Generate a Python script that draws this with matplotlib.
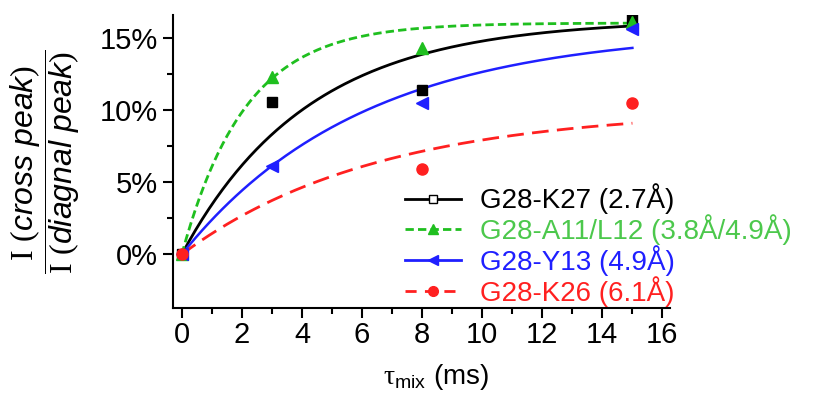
import numpy as np
import matplotlib.pyplot as plt
from matplotlib.lines import Line2D
from matplotlib.ticker import FixedLocator, FuncFormatter

plt.rcParams['font.family'] = ['Liberation Sans', 'DejaVu Sans']
plt.rcParams['mathtext.fontset'] = 'custom'
plt.rcParams['mathtext.rm'] = 'Liberation Serif'
plt.rcParams['mathtext.it'] = 'Liberation Sans:italic'
plt.rcParams['mathtext.sf'] = 'Liberation Sans'

# mixing times (ms) and cross/diagonal peak ratios (%)
t_k27 = [0, 3, 8, 15]
y_k27 = [0.0, 10.6, 11.4, 16.3]
t_a11 = [0, 3, 8, 15]
y_a11 = [0.0, 12.3, 14.3, 16.1]
t_y13 = [0, 3, 8, 15]
y_y13 = [0.0, 6.1, 10.5, 15.6]
t_k26 = [0, 8, 15]
y_k26 = [0.0, 5.9, 10.5]

labels = ['G28-K27 (2.7Å)', 'G28-A11/L12 (3.8Å/4.9Å)', 'G28-Y13 (4.9Å)', 'G28-K26 (6.1Å)']

# buildup fits: A * (1 - exp(-t / T))
fit_amp = [16.3, 16.05, 15.6, 10.1]
fit_tau = [4.2, 2.1, 6.0, 6.5]

line_colors = ['black', '#1fbf1f', '#1f1fff', '#ff2020']
text_colors = ['black', '#4cc84c', '#1f1fff', '#ff2020']

fig = plt.figure(figsize=(8.19, 3.96), dpi=100)
ax = fig.add_axes([0.211, 0.222, 0.607, 0.74])

tt = np.linspace(0, 15, 200)
styles = [dict(ls='-', lw=2.0),
          dict(ls=(0, (3, 1.5)), lw=2.0),
          dict(ls='-', lw=1.8),
          dict(ls=(0, (6, 3)), lw=2.0)]
for A, T, c, st in zip(fit_amp, fit_tau, line_colors, styles):
    ax.plot(tt, A * (1 - np.exp(-tt / T)), color=c, **st)

ms = 8
ax.plot(t_k27, y_k27, 's', color=line_colors[0], ms=7, ls='none')
ax.plot(t_a11, y_a11, '^', color=line_colors[1], ms=ms, ls='none')
ax.plot(t_y13, y_y13, '<', color=line_colors[2], ms=ms, ls='none')
ax.plot(t_k26, y_k26, 'o', color=line_colors[3], ms=ms, ls='none')

ax.set_xlim(-0.3, 16.25)
ax.set_ylim(-3.73, 16.6)
ax.set_xticks(range(0, 17, 2))
ax.xaxis.set_minor_locator(FixedLocator(range(1, 17, 2)))
ax.set_yticks([0, 5, 10, 15])
ax.yaxis.set_minor_locator(FixedLocator([2.5, 7.5, 12.5]))
ax.yaxis.set_major_formatter(FuncFormatter(lambda v, p: '%d%%' % v))

for s in ['top', 'right']:
    ax.spines[s].set_visible(False)
for s in ['left', 'bottom']:
    ax.spines[s].set_linewidth(1.5)
ax.tick_params(which='major', direction='out', length=7, width=1.5, labelsize=21)
ax.tick_params(which='minor', direction='out', length=4, width=1.5)
ax.tick_params(axis='x', pad=2)

ax.set_xlabel(r'$\mathrm{\tau}_{\mathsf{mix}}$ (ms)', fontsize=20)
ax.xaxis.set_label_coords(0.53, -0.185)
fig.text(45 / 819, 1 - 162 / 396,
         r'$\dfrac{\mathrm{I}\ (\mathit{cross\ peak})}{\mathrm{I}\ (\mathit{diagnal\ peak})}$',
         fontsize=23, rotation=90, ha='center', va='center')

handles = [
    Line2D([], [], color=line_colors[0], marker='s', mfc='white', mec='black', ms=6, lw=2),
    Line2D([], [], color=line_colors[1], marker='^', ms=7, lw=2, ls=(0, (3, 1.5))),
    Line2D([], [], color=line_colors[2], marker='<', ms=7, lw=2),
    Line2D([], [], color=line_colors[3], marker='o', ms=7, lw=2, ls=(0, (4, 3))),
]
leg = ax.legend(handles, labels, loc='upper left', bbox_to_anchor=(0.467, 0.425),
                frameon=False, fontsize=20, handlelength=2.0, handletextpad=0.7,
                labelspacing=0.0, borderaxespad=0, borderpad=0)
for txt, c in zip(leg.get_texts(), text_colors):
    txt.set_color(c)

fig.savefig('out.png', dpi=100)
